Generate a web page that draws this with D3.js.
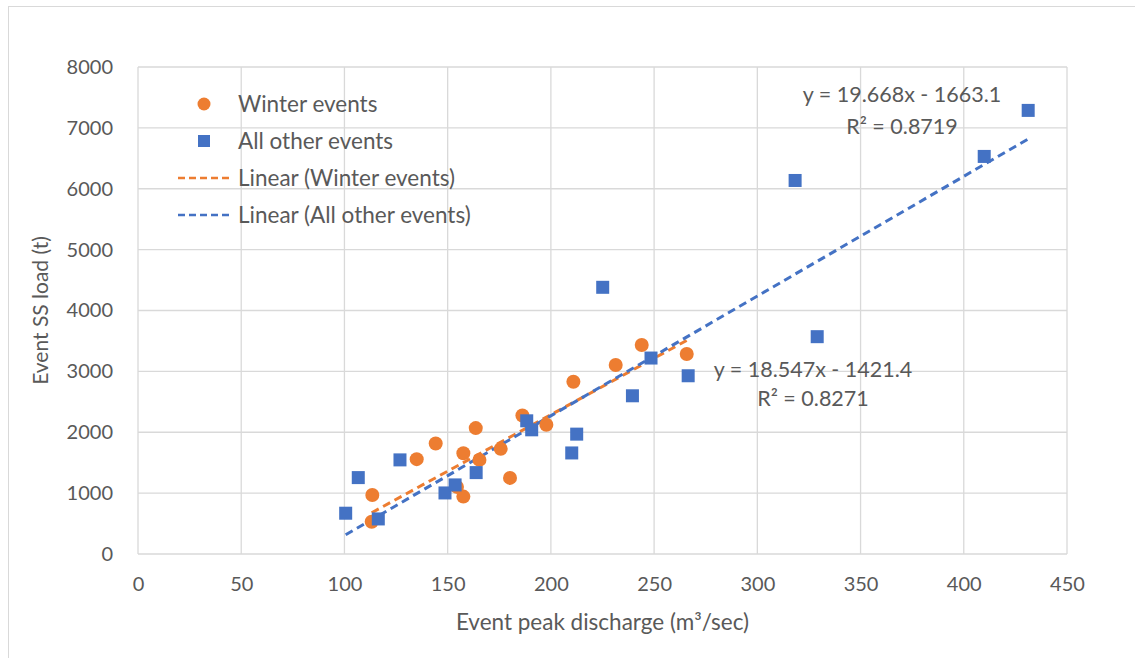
<!DOCTYPE html>
<html><head><meta charset="utf-8">
<script src="https://cdn.jsdelivr.net/npm/d3@7"></script>
<style>
html,body{margin:0;padding:0;background:#fff;}
text{font-family:Lato,"Open Sans",sans-serif;fill:#595959;}
</style></head>
<body><svg id="c" width="1135" height="658"></svg>
<script>
const winterX = [113.5,113.2,135.0,144.2,157.6,163.6,165.4,175.7,180.2,186.2,197.8,210.9,231.4,244.0,265.8,157.6,154.5];
const winterY = [970,531,1558,1814,1656,2068,1546,1727,1250,2275,2122,2829,3104,3433,3285,943,1102];
const otherX = [100.6,106.7,116.4,126.9,148.7,153.6,163.8,188.3,190.7,210.1,212.5,225.1,239.5,248.5,266.5,318.3,329.0,409.9,431.2];
const otherY = [670,1255,576,1546,1003,1135,1337,2188,2040,1660,1969,4381,2599,3219,2928,6136,3570,6531,7287];
const xTicks = [0,50,100,150,200,250,300,350,400,450];
const yTicks = [0,1000,2000,3000,4000,5000,6000,7000,8000];
const seriesNames = ["Winter events","All other events"];
const trendNames = ["Linear (Winter events)","Linear (All other events)"];
const slopes = [18.547,19.668];
const intercepts = [-1421.4,-1663.1];
const eqTexts = ["y = 18.547x - 1421.4","y = 19.668x - 1663.1"];
const r2Texts = ["R² = 0.8271","R² = 0.8719"];
const xTitle = "Event peak discharge (m³/sec)";
const yTitle = "Event SS load (t)";
const colors = ["#ED7D31","#4472C4"];

const svg = d3.select("#c");
const L=138,R=1067,T=67,B=554;
const x = d3.scaleLinear().domain([0,450]).range([L,R]);
const y = d3.scaleLinear().domain([0,8000]).range([B,T]);
const FF="Lato,'Open Sans',sans-serif";

svg.append("rect").attr("x",8.5).attr("y",6.5).attr("width",1140).attr("height",660)
  .attr("fill","none").attr("stroke","#d9d9d9");

// grid
svg.append("g").selectAll("line").data(xTicks).join("line")
  .attr("x1",d=>x(d)).attr("x2",d=>x(d)).attr("y1",T).attr("y2",B)
  .attr("stroke","#d9d9d9").attr("stroke-width",1.3);
svg.append("g").selectAll("line").data(yTicks).join("line")
  .attr("x1",L).attr("x2",R).attr("y1",d=>y(d)).attr("y2",d=>y(d))
  .attr("stroke","#d9d9d9").attr("stroke-width",1.3);

// axes
const xa = svg.append("g").attr("transform",`translate(0,${B})`)
  .call(d3.axisBottom(x).tickValues(xTicks).tickSize(0).tickPadding(23).tickFormat(d3.format("d")));
xa.select(".domain").remove();
xa.selectAll("text").attr("font-size",20).attr("font-family",FF).attr("fill","#595959");
const ya = svg.append("g").attr("transform",`translate(${L},0)`)
  .call(d3.axisLeft(y).tickValues(yTicks).tickSize(0).tickPadding(25).tickFormat(d3.format("d")));
ya.select(".domain").remove();
ya.selectAll("text").attr("font-size",20).attr("font-family",FF).attr("fill","#595959");

svg.append("text").attr("x",(L+R)/2).attr("y",630).attr("text-anchor","middle")
  .attr("font-size",22.5).text(xTitle);
svg.append("text").attr("transform",`translate(48,${(T+B)/2}) rotate(-90)`)
  .attr("text-anchor","middle").attr("font-size",21).text(yTitle);

// trendlines
const allX=[winterX,otherX];
[0,1].forEach(i=>{
  const ext=d3.extent(allX[i]);
  svg.append("line").attr("x1",x(ext[0])).attr("y1",y(slopes[i]*ext[0]+intercepts[i]))
    .attr("x2",x(ext[1])).attr("y2",y(slopes[i]*ext[1]+intercepts[i]))
    .attr("stroke",colors[i]).attr("stroke-width",3).attr("stroke-dasharray","8,5");
});

// points
svg.append("g").selectAll("circle").data(d3.zip(winterX,winterY)).join("circle")
  .attr("cx",d=>x(d[0])).attr("cy",d=>y(d[1])).attr("r",7).attr("fill",colors[0]);
svg.append("g").selectAll("rect").data(d3.zip(otherX,otherY)).join("rect")
  .attr("x",d=>x(d[0])-6.5).attr("y",d=>y(d[1])-6.5).attr("width",13).attr("height",13).attr("fill",colors[1]);

// equations
const eqPos=[[813,377,406],[902,102,134]];
[0,1].forEach(i=>{
  svg.append("text").attr("x",eqPos[i][0]).attr("y",eqPos[i][1]).attr("text-anchor","middle").attr("font-size",21.5).text(eqTexts[i]);
  svg.append("text").attr("x",eqPos[i][0]).attr("y",eqPos[i][2]).attr("text-anchor","middle").attr("font-size",21.5).text(r2Texts[i]);
});

// legend
const lg=svg.append("g");
lg.append("circle").attr("cx",204).attr("cy",104).attr("r",6.5).attr("fill",colors[0]);
lg.append("rect").attr("x",198).attr("y",135).attr("width",12).attr("height",12).attr("fill",colors[1]);
[0,1].forEach(i=>{
  lg.append("line").attr("x1",178).attr("x2",231).attr("y1",178+37*i).attr("y2",178+37*i)
    .attr("stroke",colors[i]).attr("stroke-width",2.5).attr("stroke-dasharray","7,4");
});
const lgTexts=[seriesNames[0],seriesNames[1],trendNames[0],trendNames[1]];
lgTexts.forEach((t,i)=>{
  lg.append("text").attr("x",238).attr("y",104+37*i).attr("dy","0.35em").attr("font-size",22.5).text(t);
});
</script></body></html>
